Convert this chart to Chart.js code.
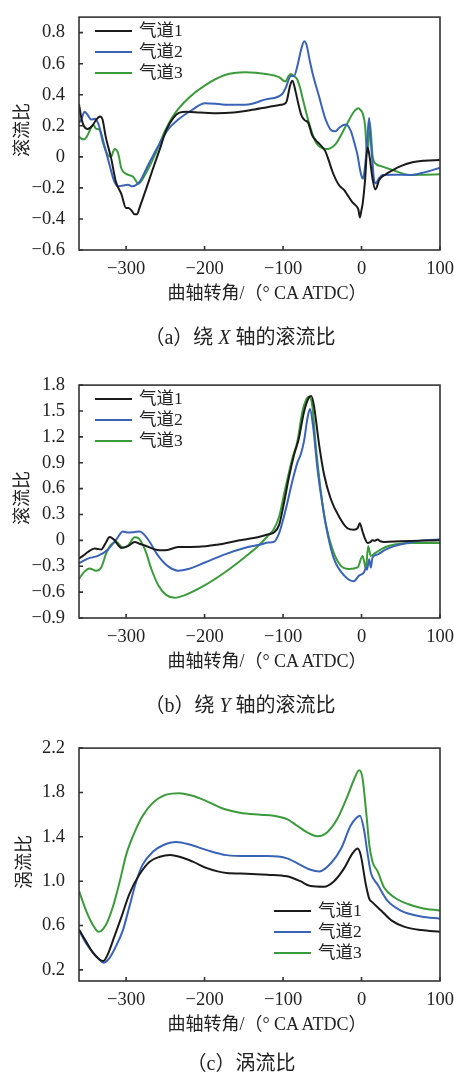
<!DOCTYPE html>
<html>
<head>
<meta charset="utf-8">
<script src="https://cdn.jsdelivr.net/npm/chart.js@4.4.0/dist/chart.umd.min.js"></script>
<style>
  body { margin: 0; width: 454px; height: 1072px; position: relative; background: #fff; overflow: hidden;
         font-family: 'Liberation Serif', 'Noto Sans CJK SC', serif; color: #222; }
  canvas { position: absolute; left: 0; }
  .lbl { position: absolute; transform: translate(-50%, -50%); white-space: nowrap; font-size: 18px; }
  .ytitle { transform: translate(-50%, -50%) rotate(-90deg); font-size: 18px; }
  .cap { font-size: 20px; }
</style>
</head>
<body>
<canvas id="chartA" width="454" height="280" style="top:0px"></canvas>
<canvas id="chartB" width="454" height="280" style="top:368px"></canvas>
<canvas id="chartC" width="454" height="280" style="top:731px"></canvas>

<div class="lbl ytitle" style="left:20px; top:130px">滚流比</div>
<div class="lbl" style="left:267px; top:291px">曲轴转角/（° CA ATDC）</div>
<div class="lbl cap" style="left:240px; top:335px">（a）绕 <i>X</i> 轴的滚流比</div>

<div class="lbl ytitle" style="left:20px; top:498px">滚流比</div>
<div class="lbl" style="left:267px; top:659px">曲轴转角/（° CA ATDC）</div>
<div class="lbl cap" style="left:240px; top:703px">（b）绕 <i>Y</i> 轴的滚流比</div>

<div class="lbl ytitle" style="left:22px; top:862px">涡流比</div>
<div class="lbl" style="left:267px; top:1022px">曲轴转角/（° CA ATDC）</div>
<div class="lbl cap" style="left:241px; top:1061px">（c）涡流比</div>

<script>
// 系列名与刻度
const seriesNames = ['气道1', '气道2', '气道3'];
const seriesColors = ['#1a1a1a', '#3a63b8', '#3b9b3b'];
const xTicks = [-300, -200, -100, 0, 100];
const yTicksA = [-0.6, -0.4, -0.2, 0, 0.2, 0.4, 0.6, 0.8];
const yTicksB = [-0.9, -0.6, -0.3, 0, 0.3, 0.6, 0.9, 1.2, 1.5, 1.8];
const yTicksC = [0.2, 0.6, 1.0, 1.4, 1.8, 2.2];

// (a) 绕X轴的滚流比  [曲轴转角, 值]
const tumbleX1 = [[-360,0.34],[-357,0.25],[-354,0.2],[-349,0.18],[-343,0.2],[-338,0.24],[-333,0.26],[-330,0.24],[-326,0.13],[-319,-0.01],[-313,-0.16],[-306,-0.24],[-300,-0.33],[-297,-0.33],[-294,-0.34],[-289,-0.37],[-286,-0.37],[-283,-0.33],[-274,-0.2],[-266,-0.08],[-257,0.05],[-249,0.17],[-240,0.25],[-232,0.285],[-223,0.29],[-206,0.285],[-185,0.28],[-163,0.285],[-142,0.3],[-120,0.32],[-103,0.335],[-97,0.345],[-95,0.365],[-91,0.46],[-88,0.49],[-84,0.42],[-80,0.33],[-76,0.26],[-72,0.235],[-68,0.22],[-63,0.14],[-58,0.105],[-54,0.085],[-46,0.035],[-42,-0.02],[-37,-0.096],[-29,-0.18],[-22,-0.215],[-18,-0.245],[-12,-0.29],[-7,-0.315],[-4,-0.34],[-2,-0.39],[0,-0.34],[1.5,-0.3],[4.5,-0.15],[7.5,0.06],[9,0.04],[10.6,-0.01],[14,-0.14],[17.5,-0.21],[19,-0.2],[22.5,-0.15],[30,-0.115],[40,-0.085],[50,-0.06],[65,-0.035],[80,-0.025],[100,-0.02]];
const tumbleX2 = [[-360,0.22],[-357,0.24],[-353,0.29],[-349,0.27],[-344.5,0.24],[-340,0.245],[-336,0.22],[-332,0.156],[-327.5,0.07],[-321,-0.054],[-315,-0.16],[-310,-0.19],[-304,-0.185],[-297.6,-0.18],[-292,-0.19],[-287,-0.18],[-282.6,-0.16],[-272,-0.054],[-259,0.07],[-246,0.18],[-233.6,0.24],[-216.6,0.3],[-199.5,0.345],[-182,0.34],[-170,0.335],[-148,0.335],[-122,0.37],[-101,0.405],[-97,0.44],[-90,0.52],[-86,0.52],[-82,0.58],[-77,0.69],[-73,0.745],[-70,0.72],[-66,0.62],[-62,0.53],[-54,0.387],[-45.7,0.24],[-37,0.166],[-33,0.165],[-28.6,0.187],[-20,0.208],[-14,0.17],[-8,0.07],[-5,0.009],[-2,-0.08],[1.3,-0.14],[3,-0.12],[5.5,-0.012],[9.7,0.25],[11,0.15],[13,0.03],[16,-0.15],[18,-0.17],[22,-0.14],[27,-0.117],[40,-0.115],[61,-0.117],[80,-0.1],[100,-0.07]];
const tumbleX3 = [[-360,0.13],[-356,0.115],[-353,0.114],[-349,0.14],[-346.6,0.166],[-342,0.208],[-338,0.18],[-334,0.176],[-329.6,0.093],[-323,0.009],[-319,0],[-316,0.04],[-314.5,0.05],[-310,0.02],[-306,-0.075],[-300,-0.11],[-291,-0.128],[-288,-0.15],[-284.8,-0.174],[-276,-0.117],[-263.5,0.009],[-250.6,0.166],[-237.8,0.28],[-221,0.376],[-199.5,0.46],[-174,0.527],[-148,0.544],[-122,0.534],[-105,0.513],[-97,0.485],[-93,0.52],[-90,0.534],[-86,0.52],[-82,0.5],[-78,0.44],[-75.5,0.387],[-67,0.219],[-62,0.14],[-58,0.093],[-52,0.06],[-45.7,0.05],[-40,0.055],[-33,0.082],[-20,0.198],[-9.5,0.292],[-4,0.313],[-1,0.3],[1.3,0.282],[4.6,0.198],[6.5,0.05],[7.7,0.03],[9,0.1],[10.6,0.219],[12,0.15],[14,0.009],[18,-0.044],[25,-0.06],[39.6,-0.085],[61,-0.117],[80,-0.115],[100,-0.112]];

// (b) 绕Y轴的滚流比
const tumbleY1 = [[-360,-0.21],[-355,-0.18],[-348.7,-0.135],[-340,-0.093],[-336,-0.1],[-331.7,-0.105],[-326,-0.03],[-321,0.039],[-317,0.02],[-314.6,0.001],[-306,-0.087],[-297.6,-0.067],[-289,-0.018],[-283,-0.04],[-276,-0.059],[-263.4,-0.105],[-250.6,-0.116],[-233.6,-0.078],[-208,-0.075],[-182.5,-0.048],[-157,-0.002],[-131,0.04],[-118.5,0.07],[-111.8,0.09],[-105,0.18],[-99,0.425],[-92.6,0.728],[-86,0.99],[-79.8,1.183],[-73.4,1.486],[-67,1.657],[-64,1.675],[-60.6,1.56],[-54,1.107],[-47.8,0.766],[-39.3,0.482],[-28.6,0.274],[-18,0.141],[-9.5,0.123],[-5,0.141],[-2.2,0.198],[1.3,0.103],[4,0.03],[7.7,-0.03],[11,-0.02],[14,0.001],[17,-0.005],[20.5,0.009],[24,-0.01],[29,-0.018],[50,-0.01],[75,-0.003],[100,0]];
const tumbleY2 = [[-360,-0.264],[-354,-0.235],[-348.7,-0.211],[-336,-0.18],[-323,-0.105],[-312.5,0.01],[-304,0.103],[-297.6,0.09],[-290,0.095],[-282.6,0.103],[-272,0.01],[-259,-0.18],[-246.4,-0.302],[-233.6,-0.351],[-220.8,-0.332],[-199.5,-0.257],[-174,-0.162],[-148,-0.086],[-128.8,-0.048],[-118.5,-0.025],[-111.8,-0.018],[-105,0.084],[-96.8,0.35],[-88,0.69],[-81.8,0.899],[-77.6,0.993],[-73.4,1.145],[-69,1.41],[-65.7,1.524],[-61.4,1.297],[-56.3,0.842],[-50,0.425],[-43.5,0.084],[-35,-0.218],[-22,-0.408],[-10,-0.473],[-3,-0.408],[3.3,-0.37],[5.7,-0.315],[7,-0.34],[9.7,-0.218],[11.8,-0.315],[14,-0.2],[20.5,-0.162],[30,-0.11],[41.7,-0.067],[63,-0.022],[80,0],[100,0.01]];
const tumbleY3 = [[-360,-0.446],[-353,-0.362],[-346.6,-0.325],[-338,-0.351],[-331.7,-0.314],[-325,-0.143],[-319,-0.048],[-312.5,-0.018],[-304,-0.087],[-297.6,-0.059],[-289,0.035],[-285,0.03],[-276,-0.105],[-267.8,-0.332],[-259,-0.52],[-248.6,-0.635],[-237.9,-0.666],[-225,-0.635],[-199.5,-0.52],[-174,-0.37],[-148,-0.19],[-131,-0.06],[-118.5,0.06],[-111.8,0.13],[-105,0.274],[-96.8,0.615],[-88,0.956],[-81.8,1.145],[-75.5,1.486],[-71.2,1.618],[-67,1.665],[-62.7,1.56],[-58.4,1.107],[-52,0.577],[-45.7,0.198],[-37,-0.105],[-26.5,-0.294],[-15.9,-0.332],[-5,-0.314],[1.3,-0.18],[3.5,-0.25],[5.5,-0.332],[8.5,-0.067],[11.8,-0.18],[18,-0.143],[30,-0.08],[41.7,-0.048],[63,-0.03],[100,-0.03]];

// (c) 涡流比
const swirl1 = [[-360,0.565],[-351,0.456],[-342,0.353],[-334,0.294],[-329,0.28],[-323.5,0.338],[-315,0.5],[-306,0.676],[-296,0.882],[-283,1.06],[-270,1.176],[-257,1.22],[-244,1.235],[-232,1.22],[-215,1.176],[-197,1.118],[-172,1.074],[-146,1.068],[-120,1.059],[-95,1.044],[-78,1.0],[-65,0.956],[-48,0.95],[-35,1.0],[-22,1.118],[-11.5,1.25],[-5,1.294],[-1,1.235],[5.5,0.97],[10,0.838],[14,0.809],[25,0.735],[38,0.647],[55,0.588],[76,0.559],[100,0.544]];
const swirl2 = [[-360,0.559],[-351,0.44],[-342,0.353],[-334,0.294],[-329,0.265],[-321,0.309],[-313,0.412],[-304,0.559],[-296,0.765],[-287,1.0],[-279,1.147],[-266,1.265],[-253,1.324],[-236,1.353],[-219,1.33],[-197,1.28],[-172,1.235],[-146,1.226],[-120,1.226],[-95,1.206],[-78,1.147],[-65,1.103],[-54,1.088],[-39,1.162],[-26,1.294],[-14,1.5],[-6,1.574],[-2,1.59],[3,1.47],[8,1.235],[12,1.074],[20.5,0.97],[33,0.824],[50,0.735],[76,0.682],[100,0.662]];
const swirl3 = [[-360,0.912],[-351,0.735],[-342,0.603],[-335,0.544],[-326,0.603],[-317,0.765],[-308,1.0],[-300,1.235],[-291,1.41],[-279,1.588],[-266,1.706],[-249,1.78],[-232,1.794],[-215,1.77],[-197,1.72],[-176,1.653],[-155,1.618],[-129,1.6],[-112,1.59],[-95,1.56],[-82,1.5],[-69,1.44],[-56,1.406],[-44,1.44],[-31,1.56],[-18,1.765],[-9,1.926],[-3,2.0],[1,1.94],[6,1.618],[10,1.324],[14,1.176],[20.5,1.088],[29,0.94],[42,0.853],[59,0.794],[76,0.759],[100,0.735]];

const FONT = '"Liberation Serif", "Noto Sans CJK SC", serif';

// 边框、内向刻度和图例
const framePlugin = {
    id: 'frame',
    afterDatasetsDraw(chart, args, opts) {
        const { ctx, chartArea: a, scales: { x, y } } = chart;
        ctx.save();
        ctx.strokeStyle = '#333';
        ctx.lineWidth = 1.6;
        ctx.strokeRect(a.left, a.top, a.right - a.left, a.bottom - a.top);
        ctx.beginPath();
        x.ticks.forEach(t => {
            const px = x.getPixelForValue(t.value);
            ctx.moveTo(px, a.bottom);
            ctx.lineTo(px, a.bottom - 4);
        });
        y.ticks.forEach(t => {
            const py = y.getPixelForValue(t.value);
            ctx.moveTo(a.left, py);
            ctx.lineTo(a.left + 4, py);
        });
        ctx.stroke();

        const lg = opts.legend;
        ctx.font = '17.5px ' + FONT;
        ctx.textBaseline = 'middle';
        chart.data.datasets.forEach((ds, i) => {
            const yy = lg.y + i * 21;
            ctx.strokeStyle = ds.borderColor;
            ctx.lineWidth = 2;
            ctx.beginPath();
            ctx.moveTo(lg.x, yy);
            ctx.lineTo(lg.x + 37, yy);
            ctx.stroke();
            ctx.fillStyle = '#222';
            ctx.fillText(ds.label, lg.x + 44, yy);
        });
        ctx.restore();
    }
};

function fmtTick(v, fixed) {
    if (v === 0 && !fixed) return '0';
    return v.toFixed(1).replace('-', '−');
}

function makeChart(id, series, yMin, yMax, yTicks, fixed, legendPos) {
    new Chart(document.getElementById(id), {
        type: 'line',
        data: {
            datasets: series.map((s, i) => ({
                label: seriesNames[i],
                data: s.map(p => ({ x: p[0], y: p[1] })),
                borderColor: seriesColors[i],
                borderWidth: 2,
                pointRadius: 0,
                fill: false,
                cubicInterpolationMode: 'monotone'
            }))
        },
        options: {
            responsive: false,
            animation: false,
            layout: { padding: { top: 12, right: 14, left: 0, bottom: 0 } },
            plugins: {
                legend: { display: false },
                tooltip: { enabled: false },
                frame: { legend: legendPos }
            },
            scales: {
                x: {
                    type: 'linear',
                    min: -360,
                    max: 100,
                    grid: { display: false },
                    border: { display: false },
                    afterBuildTicks: scale => { scale.ticks = xTicks.map(v => ({ value: v })); },
                    afterFit: scale => { scale.height = 30; },
                    ticks: {
                        padding: 0,
                        maxRotation: 0,
                        autoSkip: false,
                        color: '#222',
                        font: { family: FONT, size: 18.5 },
                        callback: v => String(v).replace('-', '−')
                    }
                },
                y: {
                    min: yMin,
                    max: yMax,
                    grid: { display: false },
                    border: { display: false },
                    afterBuildTicks: scale => { scale.ticks = yTicks.map(v => ({ value: v })); },
                    afterFit: scale => { scale.width = 79; },
                    ticks: {
                        padding: 6,
                        autoSkip: false,
                        color: '#222',
                        font: { family: FONT, size: 18.5 },
                        callback: v => fmtTick(v, fixed)
                    }
                }
            }
        },
        plugins: [framePlugin]
    });
}

makeChart('chartA', [tumbleX1, tumbleX2, tumbleX3], -0.6, 0.9, yTicksA, false, { x: 95, y: 31 });
makeChart('chartB', [tumbleY1, tumbleY2, tumbleY3], -0.9, 1.8, yTicksB, false, { x: 95, y: 31 });
makeChart('chartC', [swirl1, swirl2, swirl3], 0.1, 2.2, yTicksC, true, { x: 274, y: 180 });
</script>
</body>
</html>
